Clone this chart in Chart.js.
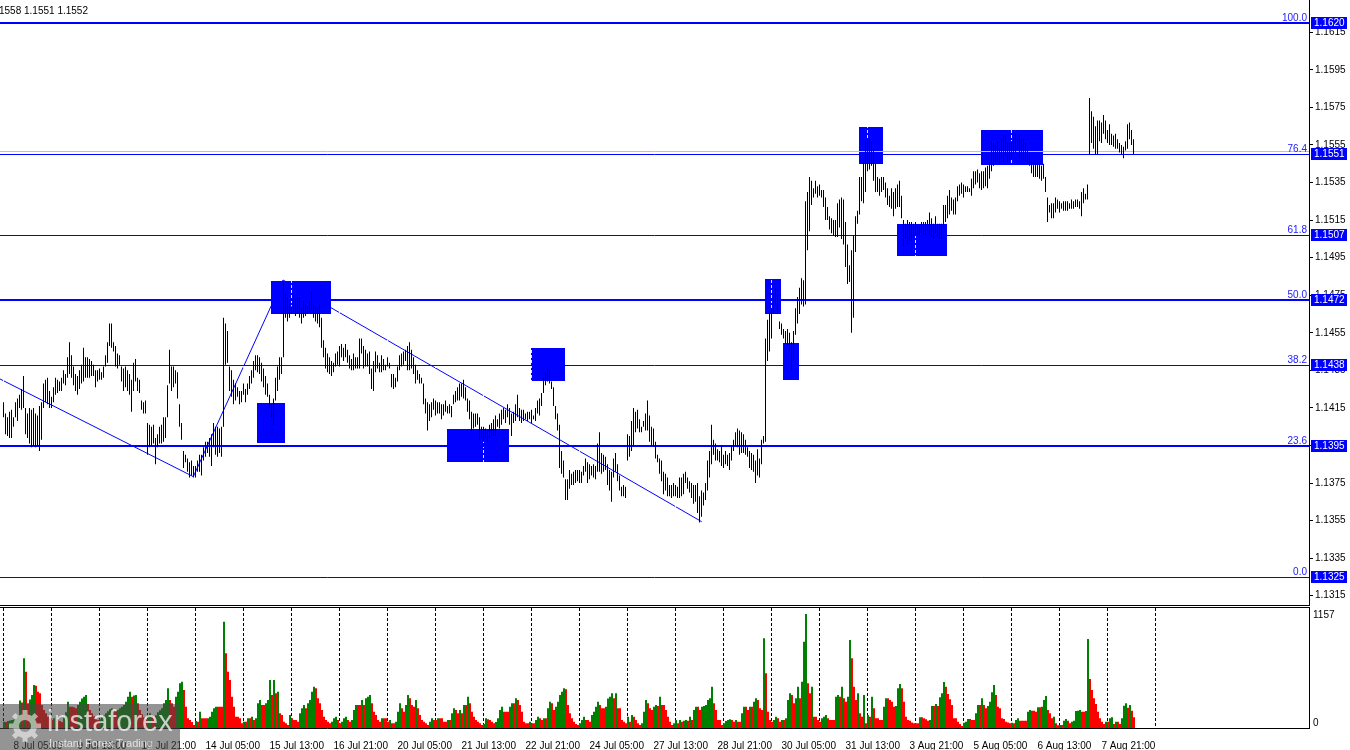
<!DOCTYPE html>
<html>
<head>
<meta charset="utf-8">
<title>EURUSD H1</title>
<script src="https://cdn.jsdelivr.net/npm/chart.js@4.4.1/dist/chart.umd.min.js"></script>
<style>
  html, body { margin: 0; padding: 0; background: #fff; }
  body { width: 1350px; height: 750px; position: relative; overflow: hidden;
         font-family: "Liberation Sans", Arial, sans-serif; }
  #priceChart  { position: absolute; left: 0; top: 0; }
  #volumeChart { position: absolute; left: 0; top: 606px; }
  #quote { position: absolute; left: -1px; top: 5px; font-size: 10px; line-height: 12px;
           color: #000; white-space: nowrap; }
  #logo { position: absolute; left: 0; top: 704px; width: 180px; height: 46px;
          background: rgba(70, 70, 70, 0.58); }
  #logo svg { position: absolute; left: 7px; top: 6px; }
  #logo .brand { position: absolute; left: 47px; top: 0; font-size: 29px; line-height: 34px;
                 color: rgba(255, 255, 255, 0.72); }
  #logo .tag { position: absolute; left: 49px; top: 33px; font-size: 11px; line-height: 13px;
               color: rgba(255, 255, 255, 0.72); }
</style>
</head>
<body>
<canvas id="priceChart" width="1350" height="606"></canvas>
<canvas id="volumeChart" width="1350" height="144"></canvas>
<div id="quote">1558 1.1551 1.1552</div>
<div id="logo">
  <svg width="36" height="32" viewBox="0 0 36 32">
    <g fill="#fff" opacity="0.55">
      <path fill-rule="evenodd" d="M18 4a12 12 0 1 0 0.01 0z M18 10a6 6 0 1 1 -0.01 0z"/>
      <rect x="15.5" y="0" width="5" height="6"/>
      <rect x="15.5" y="26" width="5" height="6"/>
      <rect x="2" y="13.5" width="6" height="5"/>
      <rect x="28" y="13.5" width="6" height="5"/>
      <rect x="15.5" y="0" width="5" height="6" transform="rotate(45 18 16)"/>
      <rect x="15.5" y="26" width="5" height="6" transform="rotate(45 18 16)"/>
      <rect x="15.5" y="0" width="5" height="6" transform="rotate(-45 18 16)"/>
      <rect x="15.5" y="26" width="5" height="6" transform="rotate(-45 18 16)"/>
    </g>
  </svg>
  <div class="brand">instaforex</div>
  <div class="tag">Instant Forex Trading</div>
</div>

<script>
// ---------- Data (EURUSD H1, one entry per hourly bar, first bar = 8 Jul 00:00) ----------
// highs / lows in pips above 1.1000
const BAR_HIGH = [
  418,412,410,413,414,410,418,420,422,425, 432,415,412,415,414,415,412,411,416,418,
  428,430,431,424,421,426,431,430,429,431, 435,433,442,450,443,437,433,432,435,438,
  447,442,442,441,440,438,435,435,436,434, 437,443,450,460,460,450,448,444,443,437,
  436,437,435,433,430,439,441,431,430,419, 418,419,407,406,405,406,399,401,405,406,
  410,410,427,446,437,437,435,434,417,407, 392,390,388,386,387,384,384,387,390,390,
  394,397,397,399,401,407,405,405,404,405,463,
  460,456,437,435,430,428,426,424,424,428, 425,428,432,435,440,443,443,442,439,436,
  432,428,422,417,420,431,437,442,442,482, 476,474,470,469,475,473,474,474,468,472,
  470,469,472,477,470,469,468,470,463,451, 447,444,442,
  440,439,444,445,448,449,447,449,446, 443,441,444,442,442,452,452,448,446,
  444,445,436,440,445,443,439,443,441, 438,442,439,433,433,431,437,443,444,
  445,446,448,450,446,442,438,435,433, 431,428,420,418,417,418,420,419,418,
  418,417,417,419,416,417,416,422,424, 426,428,428,430,426,420,419,413,412,
  412,412,410,405,405,404,403,406,407, 409,411,409,412,414,415,414,417,415,
  412,413,417,422,415,414,414,412,413, 413,414,411,415,419,420,423,431,434, 436,
  435,429,426,416,412,406,392, 387,377,377,382,380,381,382, 382,382,381,384,388,386,385,
  384,385,384,396,402,391,390, 389,385,382,381,388,391,385, 379,373,374,373,401,400,408,
  415,413,414,409,405,408,412, 419,411,405,404,397,390,388, 387,381,380,378,374,374,375,
  374,373,378,378,380,381,378, 376,375,374,374,375,368,371, 370,375,387,392,406,398,396, 393,
  392,395,390,392,390,391,395,398,402,404, 403,402,401,398,394,392,391,390,387,393,
  388,398,400,452,462,465,468,476,479,475, 461,460,457,456,457,455,450,456,468,474,
  479,484,483,525,530,538,536,532,536,533, 534,531,531,527,522,517,516,515,515,524,
  526,527,526,514,502,491,499,507,517,520,
  538,538,546,557,558,558,557,553,545,538, 537,538,538,535,532,528,532,530,532,534,
  536,528,515,513,515,514,514,513,514,512, 512,514,514,514,515,519,516,513,517,513,
  513,513,523,523,528,531,527,526,527,533, 534,535,534,533,533,532,537,541,541,542,
  540,541,541,543,544,546,557,556,555,557, 553,558,560,560,556,556,557,559,561,558,
  560,558,558,556,552,551,546,546,546,546, 545,544,545,538,527,523,524,524,527,526,
  525,524,525,525,525,524,526,525,526,526, 525,530,532,529,534,580,573,570,565,568,
  568,567,571,568,563,566,561,560,561,558, 556,555,554,557,566,567,563,558
];
const BAR_LOW = [
  410,401,400,399,399,405,410,408,415,414, 415,401,399,396,394,395,394,395,392,398,
  415,418,417,415,415,418,422,423,424,424, 428,427,431,433,431,427,424,422,425,428,
  429,431,431,431,432,432,426,429,430,430, 431,437,439,448,447,445,437,436,438,429,
  424,426,424,422,413,424,429,424,423,414, 412,412,390,394,395,396,385,394,396,396,
  397,399,410,428,424,426,428,420,405,398, 383,386,381,378,379,378,378,381,381,379,
  387,389,391,389,384,394,390,389,391,389,405,
  438,439,424,421,417,419,421,417,418,422, 418,422,425,428,431,435,434,433,429,426,
  422,421,415,410,406,419,424,430,433,442, 463,461,463,465,466,464,465,463,460,463,
  464,465,466,467,463,461,460,458,447,442, 436,434,433,
  432,434,437,438,437,442,440,442,439, 436,435,435,436,436,436,444,436,437,
  437,433,425,424,434,436,434,434,435, 435,437,436,426,425,426,429,435,437,
  438,440,435,435,436,433,428,430,428, 428,417,412,403,408,410,414,411,412,
  412,409,411,413,412,412,410,417,418, 419,419,421,420,419,413,409,403,404,
  405,406,398,399,397,399,397,399,400, 400,400,405,404,406,409,407,410,406,
  400,407,408,410,408,407,408,409,408, 409,407,409,408,412,411,416,423,427, 429,
  428,425,416,409,403,383,380, 378,366,366,372,374,374,375, 376,375,375,379,381,375,377,
  379,378,377,381,381,380,381, 382,374,371,365,378,381,376, 371,368,368,367,387,389,392,
  395,402,404,402,402,405,403, 403,397,395,395,388,386,380, 376,369,371,368,368,367,368,
  368,367,367,368,369,375,372, 370,367,364,365,359,354,357, 363,366,371,378,385,390,387, 387,
  386,384,383,385,384,382,387,392,395,394, 390,391,391,390,389,383,382,381,375,379,
  378,385,396,397,440,445,452,465,470,465, 457,454,452,449,448,445,435,440,454,460,
  465,470,469,470,499,509,523,527,529,527, 528,527,522,515,515,510,508,507,506,506,
  511,505,502,490,481,482,455,463,498,513,
  518,525,524,530,541,542,544,536,530,530, 528,530,531,527,523,522,521,517,521,522,
  522,516,501,505,502,504,504,506,507,507, 507,508,507,507,509,507,506,505,508,506,
  505,505,511,514,516,518,520,518,518,525, 528,529,527,530,530,530,528,532,534,535,
  532,531,532,533,532,537,541,544,545,546, 545,548,546,549,546,547,548,550,551,553,
  548,547,547,546,545,544,540,538,538,538, 537,536,537,530,514,519,516,516,519,521,
  519,521,520,520,520,521,521,521,522,522, 521,517,524,526,526,550,556,553,550,550,
  557,556,561,558,556,555,555,554,553,553, 551,550,548,552,553,558,555,550
];

// tick volume per bar
const VOLUME = [
  64,60,70,75,80,85,95,120,280,260, 707,572,250,290,335,436,430,369,352,233,
  183,150,115,98,80,100,130,90,70,60, 110,160,267,216,216,210,200,233,267,300,
  318,335,244,183,150,120,100,80,90,110, 130,150,170,190,200,180,170,183,200,216,
  233,267,318,369,318,330,335,250,183,140, 110,90,130,150,120,100,130,160,180,200,
  250,284,403,284,250,216,318,369,453,470, 386,216,98,81,60,30,70,64,166,98,
  98,98,100,115,166,200,216,216,216,216, 1079,758,572,487,318,216,115,115,100,47,
  64,64,98,98,115,81,98,250,284,233, 233,250,284,487,335,487,352,369,149,132,
  64,47,30,132,98,81,81,64,149,200, 233,200,250,284,369,419,403,301,250,183,
  115,81,64,47,64,98,115,81,47,64, 98,115,81,64,81,183,233,233,233,284,
  233,301,318,335,250,166,132,81,64,98, 98,98,64,81,47,47,64,166,250,200,
  166,233,335,301,233,216,284,200,132,81, 64,47,30,64,98,81,81,
  98,98,98,64,64,81,81,149,200,183, 149,183,149,233,233,318,250,166,115,81,
  64,47,30,40,98,88,81,64,47,60, 98,183,216,166,166,166,216,250,250,301,
  284,233,166,64,47,47,64,47,47,81, 115,98,81,98,98,200,267,250,183,216,
  267,335,369,403,393,233,149,98,64,40, 30,47,81,115,81,81,64,132,166,216,
  267,233,200,200,216,300,318,352,301,352, 200,200,81,64,47,115,64,132,115,81,
  47,30,47,166,284,250,200,183,216,233, 223,318,233,233,183,115,64,30,47,81,
  47,81,64,74,81,74,115,81,183,216, 216,183,216,223,233,284,301,419,250,183,
  81,81,30,47,71,81,88,81,64,81, 64,64,149,216,216,183,216,216,267,301, 284,200,183,
  910,555,166,81,64,81,115,98,64,81, 81,98,284,352,335,250,301,419,301,470,
  876,1157,453,352,419,115,115,81,64,98, 115,132,98,81,81,81,318,335,318,419,
  301,267,318,893,707,419,284,352,149,115, 335,47,132,115,318,200,98,98,81,81, 216,301,301,
  284,267,216,223,403,446,403,267,115,81, 74,57,47,47,47,108,108,98,88,74,
  81,223,223,244,223,311,352,467,419,345, 291,233,98,98,64,40,20,54,64,91,
  91,81,81,149,233,233,301,233,200,223, 267,362,436,335,216,200,98,91,64,57,
  47,54,47,81,98,74,74,74,74,166, 183,176,176,166,210,210,216,284,325,183,
  149,98,115,47,27,30,30,74,91,74, 47,64,74,172,176,183,166,166,172,903,
  497,386,301,244,166,98,64,40,64,64, 98,108,40,64,64,40,98,226,250,206, 233,176,108
];

// time axis labels (bar index -> text)
const X_LABEL_IDX = [5, 37, 69, 101, 133, 165, 197, 229, 261, 293, 325, 357, 389, 421, 453, 485, 517, 549];
const X_LABELS = [
  '8 Jul 05:00', '9 Jul 13:00', '10 Jul 21:00', '14 Jul 05:00', '15 Jul 13:00', '16 Jul 21:00',
  '20 Jul 05:00', '21 Jul 13:00', '22 Jul 21:00', '24 Jul 05:00', '27 Jul 13:00', '28 Jul 21:00',
  '30 Jul 05:00', '31 Jul 13:00', '3 Aug 21:00', '5 Aug 05:00', '6 Aug 13:00', '7 Aug 21:00'
];

// price axis ticks
const PRICE_TICKS = [
  1.1315, 1.1335, 1.1355, 1.1375, 1.1395, 1.1415, 1.1435, 1.1455,
  1.1475, 1.1495, 1.1515, 1.1535, 1.1555, 1.1575, 1.1595, 1.1615
];

// Fibonacci grid
const FIB_LOW    = 1.1325;
const FIB_HIGH   = 1.1620;
const FIB_RATIOS = [0, 23.6, 38.2, 50, 61.8, 76.4, 100];
const FIB_TAGS   = ['1.1325', '1.1395', '1.1438', '1.1472', '1.1507', '1.1551', '1.1620'];

const BID_PRICE = 1.1552;

// analyst rectangles: bar index range and price range
const BOX_START  = [133.75, 126.75, 221.75, 263.75, 380.75, 389.75, 427.75, 446.75, 488.75];
const BOX_END    = [163.75, 140.75, 252.75, 280.75, 388.75, 397.75, 439.75, 471.75, 519.75];
const BOX_TOP    = [1.14826, 1.14176, 1.14038, 1.14469, 1.14836, 1.14496, 1.15646, 1.15129, 1.15630];
const BOX_BOTTOM = [1.14650, 1.13965, 1.13864, 1.14295, 1.14650, 1.14299, 1.15449, 1.14959, 1.15445];

// trend lines: [fromIndex, fromPrice, toIndex, toPrice]
const TREND_LINES = [
  [-1.75, 1.14304, 94.9, 1.13784],
  [94.9, 1.13784, 139.75, 1.14831],
  [139.75, 1.14831, 349.1, 1.13544],
];

// ---------- Layout constants ----------
const PLOT_RIGHT  = 1309;              // right edge of the plot areas
const AXIS_WIDTH  = 1350 - PLOT_RIGHT;
const PX_PER_BAR  = 2;
const X_MIN       = -1.75;
const X_MAX       = X_MIN + PLOT_RIGHT / PX_PER_BAR;
const PRICE_MIN   = 1.131005;
const PRICE_MAX   = 1.163220;
const DAY_BARS    = 24;
const DAY_LAST    = 576;

const FIB_WIDTH   = [1, 2, 1, 2, 1, 1, 2];
const FONT        = '10px "Liberation Sans", Arial, sans-serif';
const UP_COLOR    = '#008000';
const DOWN_COLOR  = '#ff0000';

Chart.defaults.font.family = '"Liberation Sans", Arial, sans-serif';
Chart.defaults.font.size = 10;
Chart.defaults.color = '#000';

// ---------- Build datasets ----------
const pip = v => 1.1 + v / 10000;

const priceBars = BAR_HIGH.map((h, i) => ({ x: i, y: [pip(BAR_LOW[i]), pip(h)] }));

const volumeBars   = VOLUME.map((v, i) => ({ x: i + 0.25, y: v }));
const volumeColors = VOLUME.map((v, i) => (i === 0 || v > VOLUME[i - 1]) ? UP_COLOR : DOWN_COLOR);
const volPeak      = Math.max(...VOLUME);

// keep the plot areas exactly where the terminal draws them
function fixWidth(scale) {
  scale.width = AXIS_WIDTH;
  scale.paddingTop = 0;
  scale.paddingBottom = 0;
}
function fixHeight(scale) {
  scale.height = 22;
  scale.paddingLeft = 0;
  scale.paddingRight = 0;
}

// ---------- Plugins ----------
const priceOverlay = {
  id: 'priceOverlay',
  beforeDatasetsDraw(chart) {
    const { ctx, chartArea: a, scales: { x, y } } = chart;
    ctx.save();
    ctx.beginPath();
    ctx.rect(a.left, a.top, a.right - a.left, a.bottom - a.top);
    ctx.clip();

    // trend lines
    ctx.strokeStyle = '#0000ff';
    ctx.lineWidth = 1;
    TREND_LINES.forEach(([i0, p0, i1, p1]) => {
      ctx.beginPath();
      ctx.moveTo(x.getPixelForValue(i0), y.getPixelForValue(p0));
      ctx.lineTo(x.getPixelForValue(i1), y.getPixelForValue(p1));
      ctx.stroke();
    });

    // rectangles
    ctx.fillStyle = '#0000ff';
    BOX_START.forEach((s, k) => {
      const x0 = Math.round(x.getPixelForValue(s));
      const x1 = Math.round(x.getPixelForValue(BOX_END[k]));
      const y0 = Math.round(y.getPixelForValue(BOX_TOP[k]));
      const y1 = Math.round(y.getPixelForValue(BOX_BOTTOM[k]));
      ctx.fillRect(x0, y0, x1 - x0, y1 - y0);
    });

    // day separators (xor-like over the rectangles)
    ctx.globalCompositeOperation = 'difference';
    ctx.strokeStyle = '#fff';
    ctx.setLineDash([3, 2]);
    for (let d = 0; d <= DAY_LAST; d += DAY_BARS) {
      const px = Math.floor(x.getPixelForValue(d)) + 0.5;
      ctx.beginPath();
      ctx.moveTo(px, a.top);
      ctx.lineTo(px, a.bottom);
      ctx.stroke();
    }
    ctx.globalCompositeOperation = 'source-over';
    ctx.setLineDash([]);

    // fibonacci levels
    ctx.strokeStyle = '#0000ff';
    FIB_RATIOS.forEach((r, k) => {
      const py = y.getPixelForValue(FIB_LOW + (FIB_HIGH - FIB_LOW) * r / 100);
      const w = FIB_WIDTH[k];
      const yy = w % 2 ? Math.round(py) + 0.5 : Math.round(py);
      ctx.lineWidth = w;
      ctx.beginPath();
      ctx.moveTo(a.left, yy);
      ctx.lineTo(a.right, yy);
      ctx.stroke();
    });

    // bid line
    const by = Math.round(y.getPixelForValue(BID_PRICE)) + 0.5;
    ctx.strokeStyle = '#c0c0c0';
    ctx.lineWidth = 1;
    ctx.beginPath();
    ctx.moveTo(a.left, by);
    ctx.lineTo(a.right, by);
    ctx.stroke();

    ctx.restore();
  },
  afterDraw(chart) {
    const { ctx, chartArea: a, scales: { y } } = chart;
    ctx.save();
    ctx.fillStyle = '#000';
    ctx.fillRect(0, a.bottom, a.right + 1, 1);

    ctx.font = FONT;
    FIB_RATIOS.forEach((r, k) => {
      const py = Math.round(y.getPixelForValue(FIB_LOW + (FIB_HIGH - FIB_LOW) * r / 100));
      // level text
      ctx.fillStyle = '#2020ff';
      ctx.textAlign = 'right';
      ctx.textBaseline = 'alphabetic';
      ctx.fillText(r.toFixed(1), a.right - 2, py - 2);
      // price tag on the axis
      ctx.fillStyle = '#0000ff';
      ctx.fillRect(a.right + 2, py - 6, 36, 12);
      ctx.fillStyle = '#fff';
      ctx.textAlign = 'left';
      ctx.textBaseline = 'middle';
      ctx.fillText(FIB_TAGS[k], a.right + 5, py + 0.5);
    });
    ctx.restore();
  }
};

const volumeOverlay = {
  id: 'volumeOverlay',
  beforeDatasetsDraw(chart) {
    const { ctx, chartArea: a, scales: { x } } = chart;
    ctx.save();
    ctx.strokeStyle = '#000';
    ctx.lineWidth = 1;
    ctx.setLineDash([3, 2]);
    for (let d = 0; d <= DAY_LAST; d += DAY_BARS) {
      const px = Math.floor(x.getPixelForValue(d)) + 0.5;
      ctx.beginPath();
      ctx.moveTo(px, a.top);
      ctx.lineTo(px, a.bottom);
      ctx.stroke();
    }
    ctx.restore();
  },
  afterDraw(chart) {
    const { ctx, chartArea: a, scales: { y } } = chart;
    ctx.save();
    ctx.fillStyle = '#000';
    ctx.fillRect(0, a.top - 1, a.right + 1, 1);
    ctx.font = FONT;
    ctx.textAlign = 'left';
    ctx.textBaseline = 'middle';
    ctx.fillText(String(volPeak), a.right + 4, y.getPixelForValue(volPeak) + 1);
    ctx.fillText('0', a.right + 4, y.getPixelForValue(0) - 5);
    ctx.restore();
  }
};

// ---------- Charts ----------
const sharedX = {
  type: 'linear',
  min: X_MIN,
  max: X_MAX,
  offset: false,
};

new Chart(document.getElementById('priceChart'), {
  type: 'bar',
  data: {
    datasets: [{
      data: priceBars,
      backgroundColor: '#000',
      borderWidth: 0,
      barThickness: 1,
      inflateAmount: 0,
    }],
  },
  options: {
    responsive: false,
    animation: false,
    devicePixelRatio: 1,
    events: [],
    layout: { padding: { left: 0, right: 0, top: 0, bottom: 1 } },
    plugins: { legend: { display: false }, tooltip: { enabled: false } },
    scales: {
      x: { ...sharedX, display: false },
      y: {
        position: 'right',
        min: PRICE_MIN,
        max: PRICE_MAX,
        afterFit: fixWidth,
        afterBuildTicks(scale) { scale.ticks = PRICE_TICKS.map(v => ({ value: v })); },
        ticks: { autoSkip: false, padding: 2, color: '#000', callback: v => v.toFixed(4) },
        grid: { drawOnChartArea: false, drawTicks: true, tickLength: 4, tickColor: '#000' },
        border: { display: true, color: '#000' },
      },
    },
  },
  plugins: [priceOverlay],
});

new Chart(document.getElementById('volumeChart'), {
  type: 'bar',
  data: {
    datasets: [{
      data: volumeBars,
      backgroundColor: volumeColors,
      borderWidth: 0,
      barThickness: 2,
      inflateAmount: 0,
    }],
  },
  options: {
    responsive: false,
    animation: false,
    devicePixelRatio: 1,
    events: [],
    layout: { padding: { left: 0, right: 0, top: 2, bottom: 0 } },
    plugins: { legend: { display: false }, tooltip: { enabled: false } },
    scales: {
      x: {
        ...sharedX,
        position: 'bottom',
        afterFit: fixHeight,
        afterBuildTicks(scale) { scale.ticks = X_LABEL_IDX.map(v => ({ value: v })); },
        ticks: {
          autoSkip: false, maxRotation: 0, align: 'start', padding: 4, color: '#000',
          callback: v => X_LABELS[X_LABEL_IDX.indexOf(v)] || '',
        },
        grid: { display: false },
        border: { display: true, color: '#000' },
      },
      y: {
        position: 'right',
        min: 0,
        max: volPeak * 120 / 114,
        afterFit: fixWidth,
        ticks: { display: false },
        grid: { display: false },
        border: { display: true, color: '#000' },
      },
    },
  },
  plugins: [volumeOverlay],
});
</script>
</body>
</html>
